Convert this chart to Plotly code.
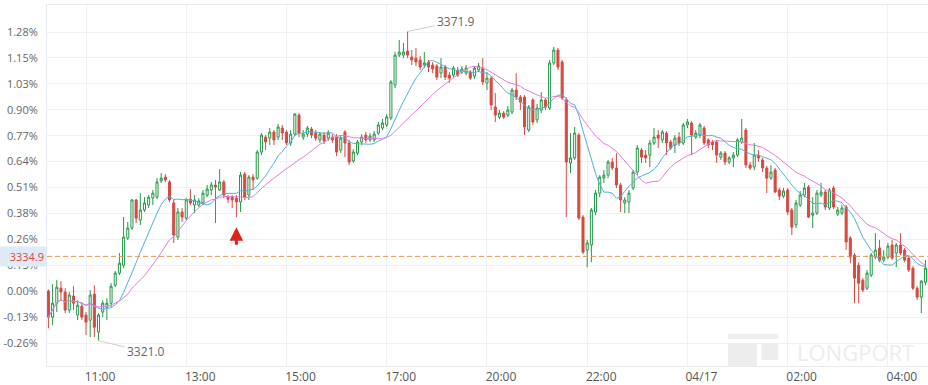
import plotly.graph_objects as go
import pandas as pd

# ---- data (percent change vs. reference price) ----
open_ = [0.001,-0.128,-0.059,0.015,-0.004,-0.093,-0.024,-0.118,-0.074,-0.118,
 -0.143,-0.014,-0.202,-0.103,-0.079,-0.059,0.030,0.090,0.129,0.263,
 0.313,0.452,0.353,0.402,0.427,0.461,0.466,0.546,0.565,0.541,
 0.437,0.268,0.392,0.362,0.456,0.427,0.427,0.437,0.476,0.501,
 0.526,0.501,0.541,0.466,0.466,0.461,0.442,0.580,0.476,0.565,
 0.560,0.689,0.763,0.758,0.788,0.763,0.808,0.788,0.734,0.778,
 0.872,0.763,0.778,0.803,0.783,0.749,0.773,0.758,0.763,0.763,
 0.699,0.788,0.734,0.645,0.684,0.739,0.773,0.749,0.749,0.783,
 0.808,0.823,0.858,1.021,1.169,1.169,1.189,1.159,1.154,1.145,
 1.120,1.135,1.120,1.115,1.080,1.110,1.070,1.070,1.095,1.085,
 1.080,1.085,1.065,1.095,1.105,1.031,1.055,0.912,0.862,0.882,
 0.872,0.887,0.996,0.961,0.961,0.798,0.947,0.848,0.897,0.947,
 0.907,1.130,1.194,1.135,0.947,0.635,0.660,0.773,0.367,0.204,
 0.229,0.392,0.486,0.560,0.575,0.640,0.610,0.526,0.437,0.442,
 0.511,0.590,0.699,0.674,0.674,0.734,0.773,0.749,0.783,0.739,
 0.724,0.763,0.734,0.823,0.833,0.763,0.773,0.808,0.749,0.739,
 0.739,0.664,0.684,0.640,0.660,0.674,0.739,0.798,0.625,0.615,
 0.674,0.650,0.610,0.560,0.600,0.501,0.471,0.501,0.402,0.328,
 0.427,0.476,0.516,0.377,0.387,0.476,0.491,0.412,0.511,0.382,
 0.387,0.417,0.263,0.179,0.129,0.055,0.015,0.080,0.169,0.214,
 0.154,0.169,0.229,0.189,0.229,0.204,0.164,0.114,0.015,-0.029,
 0.045]

high = [0.010,0.035,0.055,0.050,0.015,-0.004,0.025,-0.044,-0.054,-0.103,
 0.006,0.030,-0.108,-0.044,-0.034,0.040,0.100,0.189,0.367,0.343,
 0.456,0.456,0.486,0.466,0.476,0.501,0.560,0.585,0.580,0.551,
 0.452,0.412,0.412,0.461,0.506,0.476,0.461,0.501,0.526,0.541,
 0.551,0.605,0.551,0.476,0.476,0.476,0.590,0.590,0.575,0.580,
 0.699,0.783,0.773,0.808,0.798,0.828,0.823,0.798,0.798,0.882,
 0.882,0.798,0.818,0.813,0.798,0.788,0.788,0.798,0.778,0.778,
 0.773,0.798,0.749,0.704,0.749,0.778,0.788,0.783,0.793,0.838,
 0.853,0.877,1.046,1.184,1.244,1.229,1.286,1.194,1.204,1.164,
 1.184,1.145,1.135,1.125,1.154,1.120,1.085,1.115,1.110,1.115,
 1.120,1.095,1.115,1.130,1.154,1.085,1.065,0.981,0.897,0.892,
 0.917,1.006,1.080,0.971,0.971,0.922,0.956,0.927,0.986,0.956,
 1.145,1.209,1.204,1.145,0.961,0.783,0.813,0.783,0.377,0.254,
 0.412,0.501,0.575,0.600,0.650,0.660,0.684,0.536,0.466,0.501,
 0.600,0.724,0.709,0.699,0.749,0.808,0.798,0.798,0.793,0.749,
 0.773,0.788,0.833,0.853,0.843,0.798,0.833,0.818,0.758,0.749,
 0.749,0.694,0.694,0.669,0.689,0.758,0.853,0.808,0.640,0.734,
 0.699,0.660,0.620,0.625,0.610,0.511,0.511,0.511,0.412,0.452,
 0.496,0.536,0.526,0.466,0.501,0.536,0.501,0.511,0.521,0.417,
 0.427,0.427,0.273,0.189,0.144,0.065,0.105,0.189,0.288,0.254,
 0.204,0.239,0.254,0.239,0.288,0.214,0.174,0.124,0.025,0.055,
 0.154]

low = [-0.183,-0.168,-0.103,-0.044,-0.108,-0.108,-0.093,-0.143,-0.143,-0.217,
 -0.227,-0.227,-0.245,-0.128,-0.143,-0.079,0.020,0.080,0.114,0.254,
 0.303,0.338,0.328,0.392,0.412,0.427,0.456,0.536,0.541,0.442,
 0.239,0.254,0.343,0.353,0.427,0.387,0.417,0.427,0.466,0.476,
 0.338,0.496,0.461,0.437,0.412,0.367,0.392,0.452,0.452,0.501,
 0.551,0.674,0.699,0.724,0.724,0.749,0.749,0.724,0.719,0.768,
 0.763,0.749,0.763,0.758,0.744,0.734,0.729,0.744,0.734,0.669,
 0.684,0.664,0.625,0.635,0.674,0.724,0.734,0.739,0.739,0.773,
 0.798,0.813,0.848,1.006,1.159,1.154,1.154,1.120,1.115,1.095,
 1.105,1.085,1.080,1.046,1.055,1.046,1.031,1.060,1.060,1.075,
 1.070,1.046,1.050,1.085,1.021,0.996,0.897,0.838,0.852,0.852,
 0.862,0.877,0.947,0.897,0.773,0.788,0.823,0.833,0.882,0.897,
 0.897,1.120,1.095,0.947,0.367,0.585,0.650,0.353,0.184,0.119,
 0.144,0.377,0.466,0.536,0.560,0.600,0.511,0.392,0.387,0.387,
 0.501,0.575,0.635,0.635,0.615,0.724,0.709,0.734,0.674,0.699,
 0.684,0.719,0.724,0.808,0.674,0.753,0.758,0.724,0.709,0.699,
 0.635,0.650,0.625,0.630,0.615,0.664,0.729,0.610,0.600,0.600,
 0.640,0.590,0.486,0.551,0.486,0.452,0.461,0.377,0.278,0.313,
 0.417,0.466,0.362,0.313,0.377,0.466,0.402,0.402,0.407,0.372,
 0.377,0.204,0.139,-0.059,-0.059,-0.004,0.006,0.070,0.159,0.144,
 0.144,0.159,0.154,0.119,0.179,0.144,0.095,0.006,-0.044,-0.108,
 0.030]

close = [-0.128,-0.059,0.020,-0.004,-0.093,-0.019,-0.059,-0.069,-0.128,-0.153,
 -0.019,-0.178,-0.118,-0.059,-0.059,0.025,0.090,0.139,0.268,0.313,
 0.452,0.362,0.402,0.437,0.466,0.486,0.541,0.560,0.551,0.452,
 0.278,0.392,0.367,0.452,0.437,0.452,0.447,0.486,0.506,0.526,
 0.516,0.541,0.476,0.456,0.452,0.442,0.575,0.466,0.565,0.551,
 0.689,0.773,0.739,0.788,0.749,0.813,0.783,0.734,0.778,0.877,
 0.783,0.778,0.808,0.773,0.758,0.778,0.744,0.783,0.749,0.689,
 0.758,0.734,0.640,0.689,0.739,0.763,0.749,0.768,0.778,0.823,
 0.833,0.863,1.036,1.169,1.184,1.184,1.169,1.145,1.135,1.110,
 1.130,1.110,1.100,1.060,1.110,1.060,1.055,1.105,1.070,1.100,
 1.105,1.055,1.105,1.115,1.036,1.055,0.922,0.872,0.882,0.862,
 0.897,0.996,0.961,0.937,0.813,0.912,0.838,0.907,0.947,0.912,
 1.130,1.194,1.110,0.956,0.640,0.660,0.783,0.362,0.194,0.239,
 0.402,0.486,0.565,0.575,0.640,0.610,0.526,0.452,0.452,0.486,
 0.590,0.709,0.664,0.660,0.734,0.763,0.758,0.788,0.734,0.709,
 0.758,0.734,0.823,0.838,0.773,0.783,0.823,0.734,0.724,0.724,
 0.674,0.684,0.640,0.660,0.674,0.749,0.758,0.625,0.610,0.674,
 0.660,0.610,0.560,0.590,0.491,0.471,0.496,0.392,0.318,0.437,
 0.476,0.511,0.367,0.387,0.486,0.491,0.417,0.501,0.417,0.402,
 0.412,0.244,0.169,0.065,0.040,0.006,0.090,0.179,0.204,0.154,
 0.169,0.224,0.164,0.229,0.189,0.154,0.105,0.015,-0.029,0.050,
 0.114]

# time axis labels (one every 24 five-minute candles)
time_tick_index = [9, 33, 57, 81, 105, 129, 153, 177, 201]
time_tick_labels = ["11:00", "13:00", "15:00", "17:00", "20:00", "22:00", "04/17", "02:00", "04:00"]

# percent axis labels
pct_step = 0.12833
pct_tick_steps = list(range(-2, 11))
pct_tick_labels = ["-0.26%", "-0.13%", "0.00%", "0.13%", "0.26%", "0.38%", "0.51%",
                   "0.64%", "0.77%", "0.90%", "1.03%", "1.15%", "1.28%"]

base_price = 3329.15
ref_price = 3334.9
ref_label = "3334.9"
high_label = "3371.9"
low_label = "3321.0"
arrow_index = 45

# ---- figure ----
n = len(close)
x = list(range(n))
cs = pd.Series(close)
ma_fast = cs.rolling(10, min_periods=1).mean()
ma_slow = cs.rolling(20, min_periods=1).mean()

RED = "#d64a42"
GREEN = "#25984a"
FONT = "Open Sans"

fig = go.Figure()
fig.add_trace(go.Candlestick(
    x=x, open=open_, high=high, low=low, close=close,
    increasing=dict(line=dict(color=GREEN, width=1), fillcolor="#ffffff"),
    decreasing=dict(line=dict(color=RED, width=1), fillcolor=RED),
    whiskerwidth=0, showlegend=False, hoverinfo="skip"))
fig.add_trace(go.Scatter(x=x, y=ma_fast, mode="lines",
                         line=dict(color="#4cb3d8", width=1), showlegend=False, hoverinfo="skip"))
fig.add_trace(go.Scatter(x=x, y=ma_slow, mode="lines",
                         line=dict(color="#e07fdc", width=1), showlegend=False, hoverinfo="skip"))

ref_pct = (ref_price / base_price - 1) * 100

fig.add_shape(type="line", xref="paper", x0=0, x1=1, yref="y", y0=ref_pct, y1=ref_pct,
              line=dict(color="#e0954f", width=1, dash="5px,3px"))

# watermark logo
wm = "#ededed"
fig.add_shape(type="rect", xref="paper", yref="paper", x0=0.773, x1=0.830, y0=0.075, y1=0.089,
              fillcolor=wm, line=dict(width=0), layer="below")
fig.add_shape(type="rect", xref="paper", yref="paper", x0=0.773, x1=0.806, y0=0.0, y1=0.064,
              fillcolor=wm, line=dict(width=0), layer="below")
fig.add_shape(type="rect", xref="paper", yref="paper", x0=0.811, x1=0.830, y0=0.017, y1=0.064,
              fillcolor=wm, line=dict(width=0), layer="below")

ihi = max(range(n), key=lambda i: high[i])
ilo = min(range(n), key=lambda i: low[i])
annotations = [
    dict(x=ihi, y=high[ihi], xref="x", yref="y", text=high_label, showarrow=True,
         arrowhead=0, arrowwidth=1, arrowcolor="#cfcfcf", ax=48, ay=-10, standoff=0,
         font=dict(family=FONT, size=12, color="#666666")),
    dict(x=ilo, y=low[ilo], xref="x", yref="y", text=low_label, showarrow=True,
         arrowhead=0, arrowwidth=1, arrowcolor="#cfcfcf", ax=47, ay=11, standoff=0,
         font=dict(family=FONT, size=12, color="#666666")),
    dict(x=arrow_index, y=low[arrow_index] - 0.05, xref="x", yref="y", text="", showarrow=True,
         arrowhead=2, arrowsize=0.9, arrowwidth=3, arrowcolor="#e0201b", ax=0, ay=19),
    dict(x=0, xref="paper", xanchor="right", y=ref_pct, yref="y", yanchor="middle",
         text=ref_label, showarrow=False, bgcolor="#dfeaf7", width=43, align="right",
         borderpad=2, font=dict(family=FONT, size=11, color="#e0463c")),
    dict(x=0.918, y=0.04, xref="paper", yref="paper", xanchor="center", yanchor="middle",
         text="LONGPORT", showarrow=False,
         font=dict(family=FONT, size=22, color="#ececec")),
]

fig.update_layout(
    width=928, height=385,
    margin=dict(l=47, r=0, t=5, b=19, autoexpand=False),
    paper_bgcolor="white", plot_bgcolor="white",
    font=dict(family=FONT, size=11, color="#666666"),
    annotations=annotations,
    hovermode=False,
)
fig.update_xaxes(
    range=[-0.34, 210.6], tickvals=time_tick_index, ticktext=time_tick_labels,
    ticklabelshift=14, showgrid=True, gridcolor="#edf0f4", gridwidth=1,
    showline=True, linecolor="#e6e9ee", mirror=True, zeroline=False,
    tickfont=dict(family=FONT, size=12, color="#555555"), automargin=False,
    rangeslider=dict(visible=False), ticks="",
)
fig.update_yaxes(
    range=[-0.370, 1.417], tickvals=[k * pct_step for k in pct_tick_steps],
    ticktext=pct_tick_labels, showgrid=True, gridcolor="#edf0f4", gridwidth=1,
    showline=True, linecolor="#e6e9ee", mirror=True, zeroline=False, automargin=False,
    tickfont=dict(family=FONT, size=11, color="#666666"), ticks="", ticklabelstandoff=6,
)

fig.write_html("out.html", config={"displayModeBar": False},
               post_script="document.body.style.margin='0';document.body.style.overflow='hidden';")
